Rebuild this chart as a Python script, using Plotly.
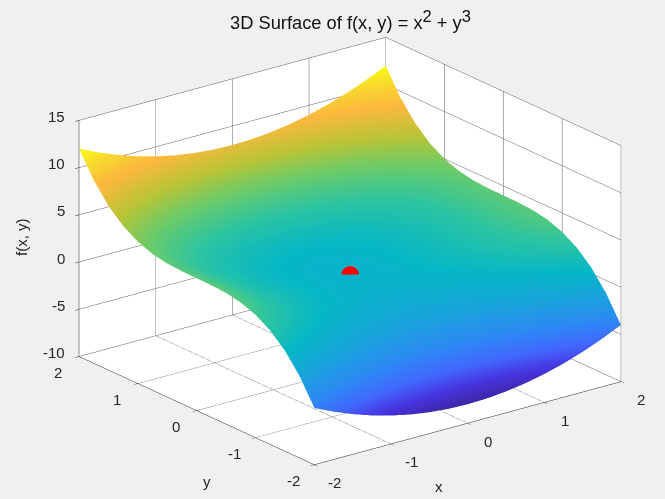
import plotly.graph_objects as go

x_values = [-2, -1.75, -1.5, -1.25, -1, -0.75, -0.5, -0.25, 0, 0.25, 0.5, 0.75, 1, 1.25, 1.5, 1.75, 2]
y_values = [-2, -1.75, -1.5, -1.25, -1, -0.75, -0.5, -0.25, 0, 0.25, 0.5, 0.75, 1, 1.25, 1.5, 1.75, 2]
z_values = [
    [-4, -4.94, -5.75, -6.44, -7, -7.44, -7.75, -7.94, -8, -7.94, -7.75, -7.44, -7, -6.44, -5.75, -4.94, -4],
    [-1.36, -2.30, -3.11, -3.80, -4.36, -4.80, -5.11, -5.30, -5.36, -5.30, -5.11, -4.80, -4.36, -3.80, -3.11, -2.30, -1.36],
    [0.625, -0.31, -1.125, -1.81, -2.375, -2.81, -3.125, -3.31, -3.375, -3.31, -3.125, -2.81, -2.375, -1.81, -1.125, -0.31, 0.625],
    [2.05, 1.11, 0.30, -0.39, -0.95, -1.39, -1.70, -1.89, -1.95, -1.89, -1.70, -1.39, -0.95, -0.39, 0.30, 1.11, 2.05],
    [3, 2.06, 1.25, 0.56, 0, -0.44, -0.75, -0.94, -1, -0.94, -0.75, -0.44, 0, 0.56, 1.25, 2.06, 3],
    [3.58, 2.64, 1.83, 1.14, 0.58, 0.14, -0.17, -0.36, -0.42, -0.36, -0.17, 0.14, 0.58, 1.14, 1.83, 2.64, 3.58],
    [3.875, 2.94, 2.125, 1.44, 0.875, 0.44, 0.125, -0.06, -0.125, -0.06, 0.125, 0.44, 0.875, 1.44, 2.125, 2.94, 3.875],
    [3.98, 3.05, 2.23, 1.55, 0.98, 0.55, 0.23, 0.05, -0.02, 0.05, 0.23, 0.55, 0.98, 1.55, 2.23, 3.05, 3.98],
    [4, 3.06, 2.25, 1.56, 1, 0.56, 0.25, 0.06, 0, 0.06, 0.25, 0.56, 1, 1.56, 2.25, 3.06, 4],
    [4.02, 3.08, 2.27, 1.58, 1.02, 0.58, 0.27, 0.08, 0.02, 0.08, 0.27, 0.58, 1.02, 1.58, 2.27, 3.08, 4.02],
    [4.125, 3.19, 2.375, 1.69, 1.125, 0.69, 0.375, 0.19, 0.125, 0.19, 0.375, 0.69, 1.125, 1.69, 2.375, 3.19, 4.125],
    [4.42, 3.48, 2.67, 1.98, 1.42, 0.98, 0.67, 0.48, 0.42, 0.48, 0.67, 0.98, 1.42, 1.98, 2.67, 3.48, 4.42],
    [5, 4.06, 3.25, 2.56, 2, 1.56, 1.25, 1.06, 1, 1.06, 1.25, 1.56, 2, 2.56, 3.25, 4.06, 5],
    [5.95, 5.02, 4.20, 3.52, 2.95, 2.52, 2.20, 2.02, 1.95, 2.02, 2.20, 2.52, 2.95, 3.52, 4.20, 5.02, 5.95],
    [7.375, 6.44, 5.625, 4.94, 4.375, 3.94, 3.625, 3.44, 3.375, 3.44, 3.625, 3.94, 4.375, 4.94, 5.625, 6.44, 7.375],
    [9.36, 8.42, 7.61, 6.92, 6.36, 5.92, 5.61, 5.42, 5.36, 5.42, 5.61, 5.92, 6.36, 6.92, 7.61, 8.42, 9.36],
    [12, 11.06, 10.25, 9.56, 9, 8.56, 8.25, 8.06, 8, 8.06, 8.25, 8.56, 9, 9.56, 10.25, 11.06, 12],
]
point_x = [0]
point_y = [0]
point_z = [0]
x_ticks = [-2, -1, 0, 1, 2]
y_ticks = [-2, -1, 0, 1, 2]
z_ticks = [-10, -5, 0, 5, 10, 15]

parula = [
    [0.0, "#3E26A8"], [0.07, "#4735E0"], [0.14, "#4268FE"], [0.22, "#2E87F5"],
    [0.32, "#1AA3DC"], [0.42, "#05B7C6"], [0.52, "#2EC4A0"], [0.62, "#6ACB6C"],
    [0.72, "#B9C436"], [0.84, "#FDB83E"], [0.92, "#F8D72F"], [1.0, "#F9FB15"],
]

INK = "#262626"
GRID = "#5a5a5a"
FONT = "Liberation Sans"


def axis(rng, ticks):
    return dict(
        title=dict(text=""),
        range=rng, tickvals=ticks, autorange=False, showticklabels=False,
        showgrid=True, gridcolor=GRID, gridwidth=1, zeroline=False,
        showline=True, linecolor=INK, linewidth=1, ticks="outside", ticklen=5, tickcolor=INK,
        showbackground=True, backgroundcolor="white", showspikes=False,
    )


def label(x, y, z, text, xshift, yshift, xanchor="center", angle=0):
    return dict(x=x, y=y, z=z, text=text, showarrow=False, xshift=xshift, yshift=yshift,
                xanchor=xanchor, yanchor="middle", textangle=angle,
                font=dict(size=15, color=INK, family=FONT))


annotations = []
for t in x_ticks:
    annotations.append(label(t, -2, -10, str(t), 20.5, -18))
for t in y_ticks:
    annotations.append(label(-2, t, -10, str(t), -21, -16))
for t in z_ticks:
    annotations.append(label(-2, 2, t, str(t), -12, 4, xanchor="right"))
annotations.append(label(0, -2, -10, "x", -29, -63))
annotations.append(label(-2, 0, -10, "y", 10, -70.5))
annotations.append(label(-2, 2, 2.5, "f(x, y)", -57, 1.5, angle=-90))

fig = go.Figure()
fig.add_surface(
    x=x_values, y=y_values, z=z_values, colorscale=parula, cmin=-8, cmax=12, showscale=False,
    lighting=dict(ambient=1, diffuse=0, specular=0, roughness=1, fresnel=0),
)
fig.add_scatter3d(x=point_x, y=point_y, z=point_z, mode="markers",
                  marker=dict(size=10.3, color="#ff0000", line=dict(width=0)))

R = 1.291
S = 1.549
DZ = 0.0065
title_text = ('3D Surface of f(x, y) = x<sup><span style="font-size:16.5px">2</span></sup> + '
              'y<sup><span style="font-size:16.5px">3</span></sup>')
fig.update_layout(
    width=665, height=499, margin=dict(l=0, r=0, t=0, b=0), autosize=False,
    paper_bgcolor="#f0f0f0", showlegend=False,
    font=dict(family=FONT, color=INK),
    title=dict(text=title_text, x=350.5 / 665, xanchor="center",
               y=0.954, yanchor="middle", font=dict(size=18.3, color="#111111", family=FONT)),
    scene=dict(
        domain=dict(x=[35 / 665, 1], y=[0, 1]),
        xaxis=axis([-2, 2], x_ticks),
        yaxis=axis([-2, 2], y_ticks),
        zaxis=axis([-10, 15], z_ticks),
        aspectmode="manual", aspectratio=dict(x=S, y=S, z=0.653 * S),
        annotations=annotations,
        camera=dict(projection=dict(type="orthographic"), up=dict(x=0, y=0, z=1),
                    center=dict(x=0, y=0, z=DZ),
                    eye=dict(x=-0.5696 * R, y=-0.7423 * R, z=0.353 * R + DZ)),
    ),
)
fig.write_html("out.html", config=dict(displayModeBar=False),
               post_script="document.body.style.margin='0';document.body.style.background='#f0f0f0';")
